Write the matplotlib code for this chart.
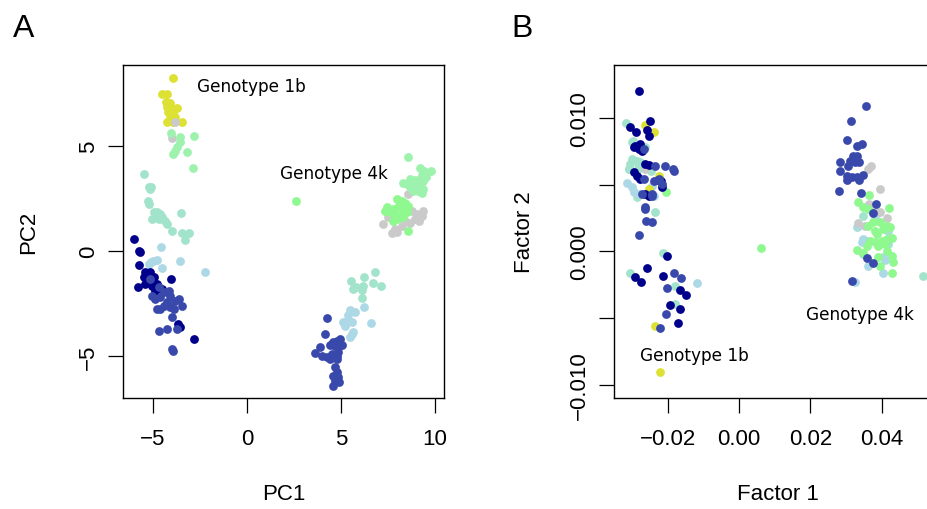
import matplotlib
matplotlib.use("Agg")
import matplotlib.pyplot as plt

# ---------------- Panel A (PCA) data ----------------
A_yellow = [(-3.95, 8.27), (-4.54, 7.49), (-4.27, 7.50), (-4.31, 7.10), (-4.10, 7.06),
            (-4.27, 6.86), (-4.01, 6.81), (-3.74, 6.84), (-4.19, 6.62), (-3.95, 6.54),
            (-4.10, 6.33), (-4.27, 6.17), (-3.92, 6.14), (-3.47, 6.17), (-3.83, 6.38)]
A_gray = [(-3.83, 6.14), (-4.01, 5.38),
          (8.58, 2.73), (8.76, 1.93), (9.03, 1.78), (9.29, 1.70), (9.38, 1.93), (8.94, 1.54),
          (8.40, 1.43), (8.67, 1.33), (8.23, 1.22), (7.87, 1.06), (7.70, 0.86), (7.96, 0.90),
          (7.25, 1.30), (7.52, 1.62), (9.16, 1.46)]
A_mint = [(-4.04, 5.63), (-3.56, 5.46), (-2.82, 5.50), (-3.56, 5.19), (-3.71, 4.95),
          (-3.83, 4.79), (-3.21, 4.74), (-3.95, 4.63), (-2.86, 3.95),
          (8.58, 4.50), (9.20, 3.97), (9.41, 3.84), (9.77, 3.84), (9.29, 3.65), (9.52, 3.52),
          (9.20, 3.44), (9.38, 3.33), (8.94, 3.40), (8.67, 3.44), (8.31, 3.24), (8.53, 3.20),
          (8.76, 3.12), (9.03, 3.24), (9.20, 3.12), (9.38, 2.97), (9.11, 2.86), (8.85, 2.89),
          (8.67, 3.08), (9.29, 2.76)]
A_green = [(7.96, 2.49), (8.23, 2.41), (8.40, 2.29), (8.58, 2.17), (8.31, 2.01), (8.05, 2.10),
           (7.78, 2.01), (7.43, 2.10), (7.34, 1.93), (7.61, 1.86), (7.87, 1.78), (8.14, 1.70),
           (8.49, 1.86), (8.31, 1.62), (7.96, 1.54), (7.78, 1.46), (8.58, 0.98), (2.61, 2.40)]
A_aqua = [(-5.49, 3.68), (-5.22, 3.08), (-5.10, 3.05), (-5.17, 2.98), (-5.27, 2.41), (-5.20, 2.25),
          (-4.96, 1.86), (-4.79, 1.86), (-4.61, 1.78), (-4.88, 1.62), (-5.05, 1.54), (-4.70, 1.54),
          (-4.52, 1.62), (-4.35, 1.46), (-4.26, 1.30), (-3.99, 0.98), (-3.49, 1.81), (-3.46, 0.87),
          (-3.10, 0.87), (-3.28, 0.55),
          (5.52, -1.40), (6.24, -1.24), (6.81, -1.00), (5.65, -1.80), (5.80, -1.71), (6.19, -1.64),
          (6.69, -1.51), (7.11, -1.64), (6.10, -1.83), (6.10, -2.24)]
A_lblue = [(-4.56, 0.19), (-3.59, -0.45), (-4.79, -0.40), (-5.09, -0.52), (-5.23, -0.60),
           (-4.52, -0.82), (-5.00, -0.45), (-2.22, -1.00),
           (6.24, -2.67), (5.74, -2.88), (5.48, -2.78), (5.39, -3.03), (5.30, -3.30), (5.12, -3.35),
           (5.57, -3.35), (5.21, -3.54), (6.58, -3.43), (5.65, -3.86), (5.48, -4.10), (5.57, -3.94)]
A_navy = [(-5.99, 0.59), (-5.67, -0.05), (-5.76, 0.03), (-5.76, -0.67), (-5.41, -1.00),
          (-5.14, -0.97), (-5.49, -1.24), (-4.96, -1.24), (-5.41, -1.56), (-5.05, -1.64),
          (-4.79, -1.56), (-5.80, -1.69), (-4.03, -1.32), (-4.88, -1.88), (-4.52, -1.80),
          (-3.67, -3.46), (-3.55, -3.62), (-2.84, -4.18), (-5.25, -1.30), (-5.30, -1.45),
          (-5.15, -1.50), (-5.35, -1.10)]
A_mblue = [(-5.14, -1.32), (-4.70, -1.71), (-5.05, -2.11), (-4.88, -2.27), (-4.61, -2.19),
           (-4.43, -1.95), (-4.16, -1.88), (-4.08, -2.11), (-3.81, -2.35), (-3.63, -2.27),
           (-3.46, -2.59), (-4.26, -2.43), (-4.43, -2.59), (-4.61, -2.75), (-4.08, -2.67),
           (-3.90, -2.75), (-4.79, -2.75), (-3.99, -3.14), (-4.70, -3.78), (-4.26, -3.70),
           (-3.72, -3.70), (-3.99, -4.65), (-3.95, -4.75),
           (4.24, -3.19), (4.15, -3.94), (4.95, -4.18), (4.77, -4.26), (4.59, -4.33), (4.41, -4.46),
           (4.68, -4.52), (4.86, -4.57), (5.04, -4.46), (3.88, -4.57), (3.62, -4.84), (3.97, -4.97),
           (4.24, -5.05), (4.50, -4.89), (4.77, -4.97), (4.86, -4.81), (4.41, -5.13), (4.77, -5.13),
           (4.68, -5.52), (4.77, -5.76), (4.59, -5.92), (4.86, -6.00), (4.68, -6.16), (4.91, -6.21),
           (4.56, -6.40)]

# ---------------- Panel B (Factor) data ----------------
B_navy = [(-0.02814, 0.01205), (-0.02488, 0.00980), (-0.03049, 0.00930), (-0.02889, 0.00897),
          (-0.02581, 0.00912), (-0.02516, 0.00867), (-0.02909, 0.00792), (-0.02768, 0.00805),
          (-0.02814, 0.00767), (-0.02721, 0.00755), (-0.02954, 0.00780), (-0.02628, 0.00655),
          (-0.02533, 0.00647), (-0.02954, 0.00593), (-0.02861, 0.00567), (-0.02768, 0.00542),
          (-0.02160, 0.00480), (-0.02628, 0.00430), (-0.02533, 0.00417), (-0.02190, 0.00525),
          (-0.02260, 0.00537),
          (-0.02020, -0.00038), (-0.02581, -0.00125), (-0.02926, -0.00195), (-0.02741, -0.00228),
          (-0.02132, -0.00188), (-0.01647, -0.00288), (-0.01487, -0.00326), (-0.01927, -0.00403),
          (-0.01664, -0.00433), (-0.01720, -0.00538)]
B_mblue = [(-0.02674, 0.00767), (-0.02348, 0.00642), (-0.02067, 0.00638), (-0.01832, 0.00605),
           (-0.01840, 0.00617), (-0.02674, 0.00542), (-0.02393, 0.00530), (-0.02253, 0.00542),
           (-0.02160, 0.00505), (-0.02721, 0.00430), (-0.02440, 0.00417), (-0.02645, 0.00330),
           (-0.02637, 0.00317), (-0.02610, 0.00230), (-0.02450, 0.00222), (-0.02797, 0.00122),
           (-0.02450, 0.00430),
           (-0.01832, -0.00163), (-0.01619, -0.00200), (-0.02020, -0.00275), (-0.02039, -0.00470),
           (-0.02207, -0.00578),
           (0.03553, 0.01092), (0.03133, 0.00980), (0.03021, 0.00837), (0.03318, 0.00792),
           (0.03441, 0.00805), (0.03207, 0.00717), (0.03318, 0.00717), (0.03113, 0.00680),
           (0.02833, 0.00668), (0.03066, 0.00642), (0.03254, 0.00668), (0.03375, 0.00668),
           (0.02833, 0.00600), (0.03021, 0.00567), (0.03161, 0.00555), (0.03301, 0.00560),
           (0.03487, 0.00575), (0.03375, 0.00535), (0.03021, 0.00535), (0.02805, 0.00450),
           (0.03422, 0.00437), (0.03834, 0.00355), (0.03767, 0.00290), (0.03582, -0.00053),
           (0.03750, -0.00090), (0.03161, -0.00225)]
B_yellow = [(-0.02645, 0.00948), (-0.02376, 0.00893), (-0.02533, 0.00467), (-0.02253, 0.00563),
            (-0.02348, -0.00563), (-0.02224, -0.00908)]
B_aqua = [(-0.03170, 0.00960), (-0.02980, 0.00830), (-0.03002, 0.00822), (-0.03002, 0.00692),
          (-0.03049, 0.00655), (-0.03095, 0.00617), (-0.02861, 0.00680), (-0.02768, 0.00668),
          (-0.02814, 0.00638), (-0.02628, 0.00780), (-0.02861, 0.00405), (-0.02468, 0.00605),
          (-0.03080, 0.00617), (-0.02820, 0.00617), (-0.02360, 0.00293), (-0.02140, -0.00013),
          (-0.03049, -0.00165), (-0.01787, -0.00258), (-0.01787, -0.00395),
          (0.03487, 0.00267), (0.03318, 0.00180), (0.04188, 0.00155), (0.04188, 0.00055),
          (0.05153, -0.00183)]
B_lblue = [(-0.03142, 0.00512), (-0.03002, 0.00480), (-0.02954, 0.00443), (-0.02814, 0.00430),
           (-0.02440, 0.00492), (-0.02393, 0.00413), (-0.01178, -0.00238),
           (0.03815, 0.00267), (0.03346, 0.00192), (0.03487, 0.00092), (0.03582, 0.00080),
           (0.03442, 0.00068), (0.03487, -0.00020), (0.04048, -0.00045), (0.04095, -0.00065),
           (0.03627, -0.00108), (0.04048, -0.00163), (0.03254, -0.00233)]
B_gray = [(-0.02628, 0.00617),
          (0.03694, 0.00642), (0.03627, 0.00617), (0.03955, 0.00467), (0.03655, 0.00355),
          (0.03767, 0.00317), (0.03955, 0.00292), (0.04143, 0.00250), (0.03346, 0.00210),
          (0.03534, 0.00192)]
B_green = [(0.00617, 0.00022), (-0.02048, 0.00447),
           (0.03647, 0.00422), (0.03346, 0.00368), (0.04216, 0.00325), (0.03487, 0.00330),
           (0.03627, 0.00317), (0.03767, 0.00218), (0.03955, 0.00218), (0.04143, 0.00192),
           (0.03627, 0.00192), (0.03815, 0.00155), (0.04048, 0.00167), (0.04236, 0.00180),
           (0.03863, 0.00130), (0.03675, 0.00080), (0.03815, 0.00068), (0.04003, 0.00080),
           (0.04143, 0.00092), (0.04283, 0.00100), (0.03907, 0.00042), (0.04095, 0.00055),
           (0.03582, 0.00042), (0.03302, 0.00010), (0.03487, -0.00015), (0.03907, -0.00040),
           (0.04143, 0.00005), (0.04283, -0.00038), (0.04328, -0.00083), (0.03955, -0.00108),
           (0.04283, -0.00165)]

A_xticks = [-5, 0, 5, 10]
A_yticks = [-5, 0, 5]
B_xticks = [-0.02, 0.00, 0.02, 0.04]
B_xticklabels = ["\u22120.02", "0.00", "0.02", "0.04"]
B_yticks = [-0.010, -0.005, 0.000, 0.005, 0.010]
B_yticklabels = ["\u22120.010", "", "0.000", "", "0.010"]

COL = {
    "yellow": "#DCE133",
    "gray": "#CACACA",
    "mint": "#9DF2AE",
    "green": "#8FF88F",
    "aqua": "#A2E3CC",
    "lblue": "#ADD8E6",
    "navy": "#00008B",
    "mblue": "#3949AB",
}

W, H = 927, 510
fig = plt.figure(figsize=(W / 100, H / 100), dpi=100)

def frac(l, t, r, b):
    return [l / W, 1 - b / H, (r - l) / W, (b - t) / H]

axA = fig.add_axes(frac(123, 66, 444, 399))
axB = fig.add_axes(frac(614, 66, 934, 399))

S = 40
def scat(ax, pts, col):
    xs = [p[0] for p in pts]
    ys = [p[1] for p in pts]
    ax.scatter(xs, ys, s=S, c=COL[col], linewidths=0, zorder=3)

for pts, c in [(A_aqua, "aqua"), (A_lblue, "lblue"), (A_yellow, "yellow"), (A_gray, "gray"),
               (A_mint, "mint"), (A_green, "green"), (A_navy, "navy"), (A_mblue, "mblue")]:
    scat(axA, pts, c)
for pts, c in [(B_aqua, "aqua"), (B_lblue, "lblue"), (B_gray, "gray"), (B_green, "green"),
               (B_yellow, "yellow"), (B_navy, "navy"), (B_mblue, "mblue")]:
    scat(axB, pts, c)

axA.set_xlim(-6.60, 10.48)
axA.set_ylim(-6.99, 8.87)
axA.set_xticks(A_xticks)
axA.set_yticks(A_yticks)
axB.set_xlim(-0.03506, 0.0547)
axB.set_ylim(-0.01100, 0.01398)
axB.set_xticks(B_xticks)
axB.set_xticklabels(B_xticklabels)
axB.set_yticks(B_yticks)
axB.set_yticklabels(B_yticklabels)

tickfont = "Liberation Sans"
for ax in (axA, axB):
    for sp in ax.spines.values():
        sp.set_linewidth(1.0)
    ax.tick_params(axis="both", length=10.5, width=0.9, labelsize=16, direction="out")
    ax.tick_params(axis="x", pad=11)
    ax.tick_params(axis="y", pad=7)
    for lab in ax.get_xticklabels() + ax.get_yticklabels():
        lab.set_fontfamily(tickfont)
    for lab in ax.get_yticklabels():
        lab.set_rotation(90)
        lab.set_va("center")

axA.set_xlabel("PC1", fontsize=16, fontfamily=tickfont)
axA.set_ylabel("PC2", fontsize=16, fontfamily=tickfont)
axB.set_xlabel("Factor 1", fontsize=16, fontfamily=tickfont)
axB.set_ylabel("Factor 2", fontsize=16, fontfamily=tickfont)
axA.xaxis.set_label_coords(0.5, -0.255)
axB.xaxis.set_label_coords((778 - 614) / 320, -0.255)
axA.yaxis.set_label_coords(-0.26, 0.5)
axB.yaxis.set_label_coords(-0.248, 0.5)

annfont = "DejaVu Sans"
axA.text(-2.66, 7.87, "Genotype 1b", fontsize=12.2, fontfamily=annfont, va="center", ha="left")
axA.text(1.76, 3.73, "Genotype 4k", fontsize=12.2, fontfamily=annfont, va="center", ha="left")
axB.text(0.0188, -0.0047, "Genotype 4k", fontsize=12.2, fontfamily=annfont, va="center", ha="left")
axB.text(-0.0278, -0.00778, "Genotype 1b", fontsize=12.2, fontfamily=annfont, va="center", ha="left")

fig.text(13 / W, 1 - 37 / H, "A", fontsize=23, fontfamily=tickfont, ha="left", va="baseline")
fig.text(511 / W, 1 - 37 / H, "B", fontsize=23, fontfamily=tickfont, ha="left", va="baseline")

fig.savefig("out.png", dpi=100)
